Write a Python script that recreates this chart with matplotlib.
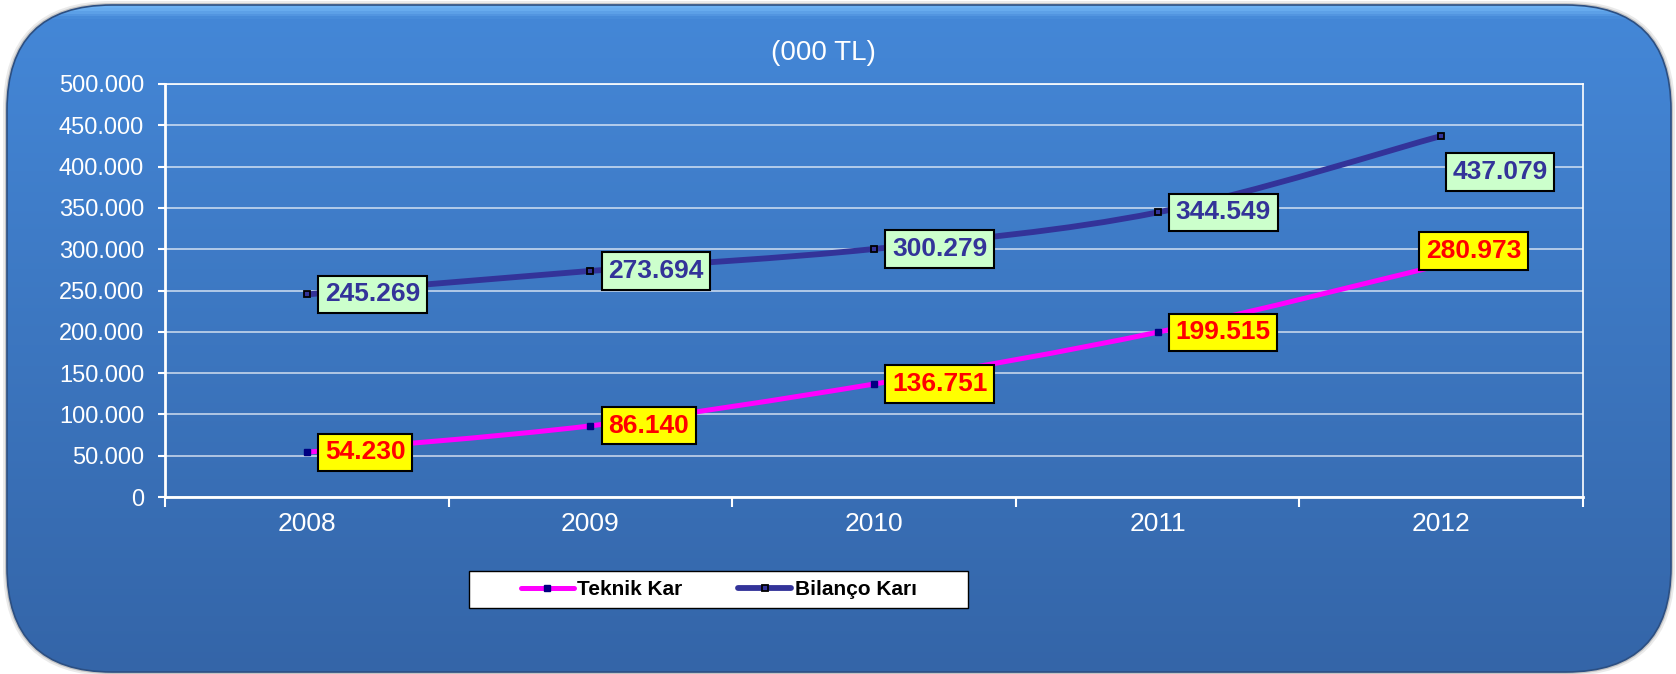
import numpy as np
import matplotlib
matplotlib.use('Agg')
import matplotlib.pyplot as plt
from matplotlib.path import Path
from matplotlib.patches import PathPatch, FancyBboxPatch, Rectangle
from matplotlib.lines import Line2D
from matplotlib.colors import LinearSegmentedColormap

years = ['2008', '2009', '2010', '2011', '2012']
teknik_kar = [54230, 86140, 136751, 199515, 280973]
bilanco_kari = [245269, 273694, 300279, 344549, 437079]
y_ticks = [0, 50000, 100000, 150000, 200000, 250000, 300000, 350000, 400000, 450000, 500000]

# label offsets in points (text left edge relative to the point)
teknik_offsets = [(13, 0), (13, 0), (13, 0), (13, 0), (-11, 10)]
bilanco_offsets = [(13, 0), (13, 0), (13, 0), (13, 0), (8, -26)]

plt.rcParams['font.family'] = ['Liberation Sans', 'DejaVu Sans']

W, H = 1676, 674
fig = plt.figure(figsize=(W / 100, H / 100), dpi=100)
fig.patch.set_facecolor('white')


def tr_fmt(v):
    return f'{v:,}'.replace(',', '.')


def smooth_path(xs, ys):
    # Excel style smoothed line: Catmull-Rom segments as cubic Beziers
    pts = np.column_stack([xs, ys]).astype(float)
    padded = np.vstack([pts[0], pts, pts[-1]])
    verts = [pts[0]]
    codes = [Path.MOVETO]
    for i in range(len(pts) - 1):
        p0, p1, p2, p3 = padded[i], padded[i + 1], padded[i + 2], padded[i + 3]
        verts += [p1 + (p2 - p0) / 6, p2 - (p3 - p1) / 6, p2]
        codes += [Path.CURVE4] * 3
    return Path(verts, codes)


# background card
bg = fig.add_axes([0, 0, 1, 1], zorder=0)
bg.set_xlim(0, W)
bg.set_ylim(0, H)
bg.axis('off')

for grow, alpha in [(4, 0.12), (2, 0.25)]:
    bg.add_patch(FancyBboxPatch((7 - grow, 2 - grow), 1664 + 2 * grow, 667 + 2 * grow,
                                boxstyle=f'round,pad=0,rounding_size={105 + grow}',
                                fc='#555555', ec='none', alpha=alpha, zorder=0))
card = FancyBboxPatch((7, 2), 1664, 667, boxstyle='round,pad=0,rounding_size=105',
                      fc='none', ec='#2c4f82', lw=1.2, zorder=2)
bg.add_patch(card)
grad = np.linspace(0, 1, 674).reshape(-1, 1)
cmap = LinearSegmentedColormap.from_list(
    'card', [(0, '#3465a8'), (0.975, '#4487d7'), (0.99, '#6cb0f2'), (1, '#6cb0f2')])
img = bg.imshow(grad, extent=[0, W, 0, H], origin='lower', cmap=cmap, aspect='auto', zorder=1)
img.set_clip_path(card)

# legend frame
bg.add_patch(Rectangle((469, H - 608), 499, 37, fc='white', ec='black', lw=1, zorder=3))

fig.text(823 / W, 1 - 53 / H, '(000 TL)', ha='center', va='center', fontsize=20, color='white')

# plot area
ax = fig.add_axes([165 / W, 1 - 497 / H, (1583 - 165) / W, (497 - 84) / H], zorder=1)
ax.patch.set_alpha(0)
x = np.arange(len(years))
ax.set_xlim(-0.5, len(years) - 0.5)
ax.set_ylim(0, 500000)

ax.set_yticks(y_ticks)
ax.set_yticklabels([tr_fmt(v) for v in y_ticks])
ax.set_xticks(x)
ax.set_xticklabels(years)
ax.set_xticks(np.arange(-0.5, len(years)), minor=True)
ax.tick_params(axis='y', colors='white', labelsize=17, length=5, width=1.5, pad=10)
ax.tick_params(axis='x', which='major', colors='white', labelsize=19, length=0, pad=11)
ax.tick_params(axis='x', which='minor', color='white', length=7, width=1.5)
ax.yaxis.grid(True, color='white', alpha=0.7, lw=1.2)
ax.set_axisbelow(True)
for side in ['left', 'bottom']:
    ax.spines[side].set_color('white')
    ax.spines[side].set_linewidth(2)
for side in ['top', 'right']:
    ax.spines[side].set_color('white')
    ax.spines[side].set_linewidth(1.2)

ax.add_patch(PathPatch(smooth_path(x, bilanco_kari), fill=False, ec='#333399', lw=4.2,
                       capstyle='round', zorder=3))
ax.add_patch(PathPatch(smooth_path(x, teknik_kar), fill=False, ec='#ff00ff', lw=3.6,
                       capstyle='round', zorder=3))
ax.plot(x, bilanco_kari, ls='none', marker='s', ms=5, mfc='#333399', mec='black', mew=1.3, zorder=4)
ax.plot(x, teknik_kar, ls='none', marker='s', ms=5, mfc='#000080', mec='#000080', zorder=4)

for xi, v, off in zip(x, bilanco_kari, bilanco_offsets):
    ax.annotate(tr_fmt(v), (xi, v), xytext=off, textcoords='offset points',
                ha='left', va='center', fontsize=19, fontweight='bold', color='#333399',
                bbox=dict(boxstyle='square,pad=0.25', fc='#ccffcc', ec='black', lw=1.5), zorder=5)
for xi, v, off in zip(x, teknik_kar, teknik_offsets):
    ax.annotate(tr_fmt(v), (xi, v), xytext=off, textcoords='offset points',
                ha='left', va='center', fontsize=19, fontweight='bold', color='#ff0000',
                bbox=dict(boxstyle='square,pad=0.25', fc='#ffff00', ec='black', lw=1.5), zorder=5)

handles = [
    Line2D([], [], color='#ff00ff', lw=3.6, solid_capstyle='round', marker='s', ms=5,
           mfc='#000080', mec='#000080'),
    Line2D([], [], color='#333399', lw=4.2, solid_capstyle='round', marker='s', ms=5,
           mfc='#333399', mec='black', mew=1.3),
]
fig.legend(handles, ['Teknik Kar', 'Bilanço Karı'], loc='center', bbox_to_anchor=(718.5 / W, 1 - 589.5 / H),
           ncol=2, frameon=False, handlelength=2.55, handletextpad=0.15, columnspacing=2.7,
           prop={'size': 15, 'weight': 'bold'})

fig.savefig('out.png', dpi=100, facecolor='white')
